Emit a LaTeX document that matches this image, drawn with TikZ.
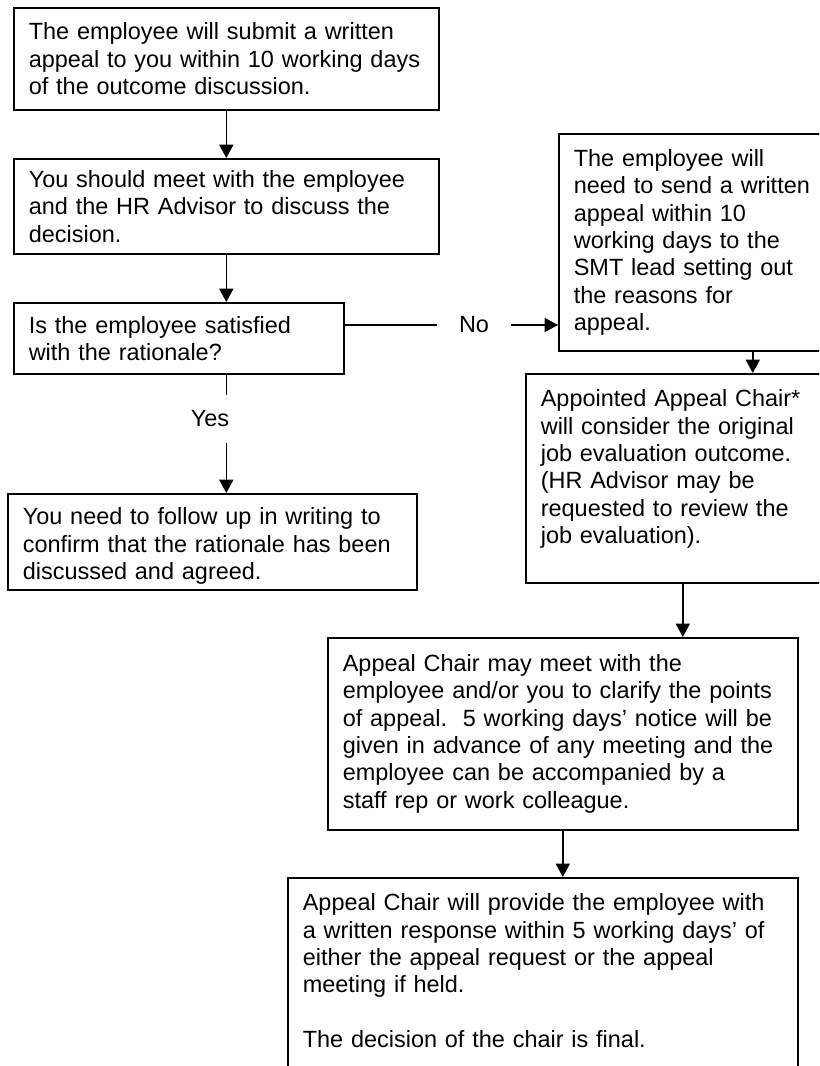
\documentclass[tikz,border=0pt]{standalone}
\usepackage{fontspec}
\setmainfont{Liberation Sans}
\usepackage{tikz}
\usetikzlibrary{arrows.meta}

\newcommand{\boxfont}{\fontsize{17.6pt}{20.5pt}\selectfont}

\tikzset{
  stepbox/.style={draw, line width=1.2pt, anchor=north west, align=left,
    inner xsep=11.25pt, inner ysep=6pt, font=\boxfont},
  flow/.style={line width=1.2pt, -{Triangle[length=10pt,width=10.5pt]}},
  link/.style={line width=1.2pt},
  tag/.style={font=\boxfont, inner xsep=0pt}
}

\begin{document}
\begin{tikzpicture}[x=0.75pt,y=-0.75pt]
\useasboundingbox (0,0) rectangle (819,1066);
\clip (0,0) rectangle (819,1066);
% left column
\node[stepbox, text width=296.25pt, minimum height=76.5pt] (b1) at (13,7)
  {The employee will submit a written\\ appeal to you within 10 working days\\ of the outcome discussion.};
\node[stepbox, text width=296.25pt, minimum height=71.25pt] (b2) at (13,158)
  {You should meet with the employee\\ and the HR Advisor to discuss the\\ decision.};
\node[stepbox, text width=225pt, minimum height=53.25pt] (b3) at (13,302)
  {Is the employee satisfied\\ with the rationale?};
\node[stepbox, text width=284.25pt, inner ysep=10.5pt, text depth=38.3pt] (b4) at (7,493)
  {You need to follow up in writing to\\ confirm that the rationale has been\\ discussed and agreed.};
% right column
\node[stepbox, text width=268.5pt, minimum height=162.75pt] (smt) at (558,133)
  {The employee will\\ need to send a written\\ appeal within 10\\ working days to the\\ SMT lead setting out\\ the reasons for\\ appeal.};
\node[stepbox, text width=213pt, inner ysep=12pt, text depth=120pt] (app) at (525,373)
  {Appointed Appeal Chair*\\ will consider the original\\ job evaluation outcome.\\ (HR Advisor may be\\ requested to review the\\ job evaluation).};
\node[stepbox, text width=330pt, minimum height=144pt] (meet) at (327,637)
  {Appeal Chair may meet with the\\ employee and/or you to clarify the points\\ of appeal.\ \ 5 working days’ notice will be\\ given in advance of any meeting and the\\ employee can be accompanied by a\\ staff rep or work colleague.};
\node[stepbox, text width=360pt, inner ysep=12pt, text depth=160pt] (fin) at (287,877)
  {Appeal Chair will provide the employee with\\ a written response within 5 working days’ of\\ either the appeal request or the appeal\\ meeting if held.\\[20.5pt] The decision of the chair is final.};
% labels
\node[tag, inner xsep=16.5pt] (no) at (474,325) {No};
\node[tag, inner ysep=11.6pt] (yes) at (210,419) {Yes};
% connectors
\draw[flow] (b1) -- (b2);
\draw[flow] (b2.south) -- (b2.south |- b3.north);
\draw[link] (no.west) -- (no.west -| b3.east);
\draw[flow] (no.east) -- (no.east -| smt.west);
\draw[link] (b3.south -| b2.south) -- (yes.north -| b2.south);
\draw[flow] (yes.south -| b2.south) -- (b4.north -| b2.south);
\draw[flow] (smt.south) -- (smt.south |- app.north);
\draw[flow] (app.south) -- (app.south |- meet.north);
\draw[flow] (meet.south) -- (meet.south |- fin.north);
\end{tikzpicture}
\end{document}
